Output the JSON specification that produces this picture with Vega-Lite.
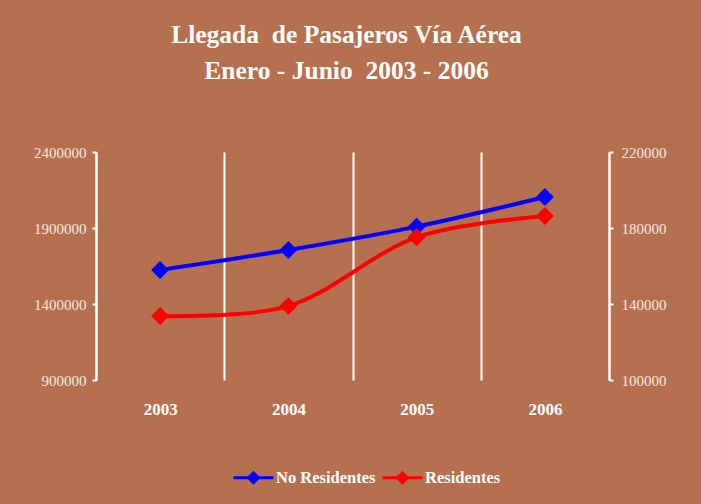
{
  "$schema": "https://vega.github.io/schema/vega-lite/v6.json",
  "width": 513,
  "height": 228,
  "autosize": {"type": "none"},
  "padding": {"left": 96, "top": 152, "right": 92, "bottom": 124},
  "background": "#b5704f",
  "title": {
    "text": ["Llegada \u00a0de Pasajeros Vía Aérea", "Enero - Junio \u00a02003 - 2006"],
    "font": "Liberation Serif",
    "fontSize": 25.5,
    "fontWeight": "bold",
    "color": "#ffffff",
    "lineHeight": 36,
    "anchor": "middle",
    "dx": -6,
    "offset": 61
  },
  "data": {
    "values": [
      {"year": "2003", "serie": "No Residentes", "value": 1624000},
      {"year": "2004", "serie": "No Residentes", "value": 1755000},
      {"year": "2005", "serie": "No Residentes", "value": 1909000},
      {"year": "2006", "serie": "No Residentes", "value": 2104000},
      {"year": "2003", "serie": "Residentes", "value": 133700},
      {"year": "2004", "serie": "Residentes", "value": 138900},
      {"year": "2005", "serie": "Residentes", "value": 175100},
      {"year": "2006", "serie": "Residentes", "value": 186300}
    ]
  },
  "encoding": {
    "x": {
      "field": "year",
      "type": "ordinal",
      "bandPosition": 0.5,
      "scale": {"type": "band", "paddingInner": 0, "paddingOuter": 0},
      "axis": {
        "title": null,
        "domain": false,
        "ticks": false,
        "grid": true,
        "gridColor": "#ffffff",
        "gridWidth": 2,
        "gridOpacity": 1,
        "tickBand": "extent",
        "labelAngle": 0,
        "labelFont": "Liberation Serif",
        "labelFontSize": 17,
        "labelFontWeight": "bold",
        "labelColor": "#ffffff",
        "labelPadding": 21
      }
    },
    "color": {
      "field": "serie",
      "type": "nominal",
      "scale": {"domain": ["No Residentes", "Residentes"], "range": ["#0000ff", "#ff0000"]},
      "legend": {
        "title": null,
        "orient": "none",
        "legendX": 136,
        "legendY": 304,
        "direction": "horizontal",
        "symbolType": "M-1,0H1M0,-0.25L0.25,0L0,0.25L-0.25,0Z",
        "symbolSize": 1600,
        "symbolStrokeWidth": 3,
        "labelFont": "Liberation Serif",
        "labelFontSize": 16.5,
        "labelFontWeight": "bold",
        "labelColor": "#ffffff",
        "labelOffset": 1,
        "columnPadding": 0,
        "encode": {
          "symbols": {
            "update": {
              "fill": {"scale": "color", "field": "value"},
              "stroke": {"scale": "color", "field": "value"},
              "opacity": {"value": 1}
            }
          }
        }
      }
    }
  },
  "layer": [
    {
      "transform": [{"filter": "datum.serie === 'No Residentes'"}],
      "mark": {
        "type": "line",
        "strokeWidth": 4,
        "interpolate": "monotone",
        "point": {"filled": true, "shape": "diamond", "size": 320, "opacity": 1}
      },
      "encoding": {
        "y": {
          "field": "value",
          "type": "quantitative",
          "scale": {"domain": [900000, 2400000], "nice": false, "zero": false},
          "axis": {
            "title": null,
            "orient": "left",
            "values": [900000, 1400000, 1900000, 2400000],
            "format": "d",
            "grid": false,
            "domainColor": "#ffffff",
            "domainWidth": 2,
            "tickColor": "#ffffff",
            "tickWidth": 2,
            "tickSize": 4,
            "labelFont": "Liberation Serif",
            "labelFontSize": 15,
            "labelColor": "#f5e8e0",
            "labelPadding": 6
          }
        }
      }
    },
    {
      "transform": [{"filter": "datum.serie === 'Residentes'"}],
      "mark": {
        "type": "line",
        "strokeWidth": 4,
        "interpolate": "catmull-rom",
        "point": {"filled": true, "shape": "diamond", "size": 320, "opacity": 1}
      },
      "encoding": {
        "y": {
          "field": "value",
          "type": "quantitative",
          "scale": {"domain": [100000, 220000], "nice": false, "zero": false},
          "axis": {
            "title": null,
            "orient": "right",
            "values": [100000, 140000, 180000, 220000],
            "format": "d",
            "grid": false,
            "domainColor": "#ffffff",
            "domainWidth": 2,
            "tickColor": "#ffffff",
            "tickWidth": 2,
            "tickSize": 4,
            "labelFont": "Liberation Serif",
            "labelFontSize": 15,
            "labelColor": "#f5e8e0",
            "labelPadding": 8
          }
        }
      }
    }
  ],
  "resolve": {"scale": {"y": "independent"}},
  "config": {
    "view": {"stroke": null},
    "font": "Liberation Serif"
  }
}
